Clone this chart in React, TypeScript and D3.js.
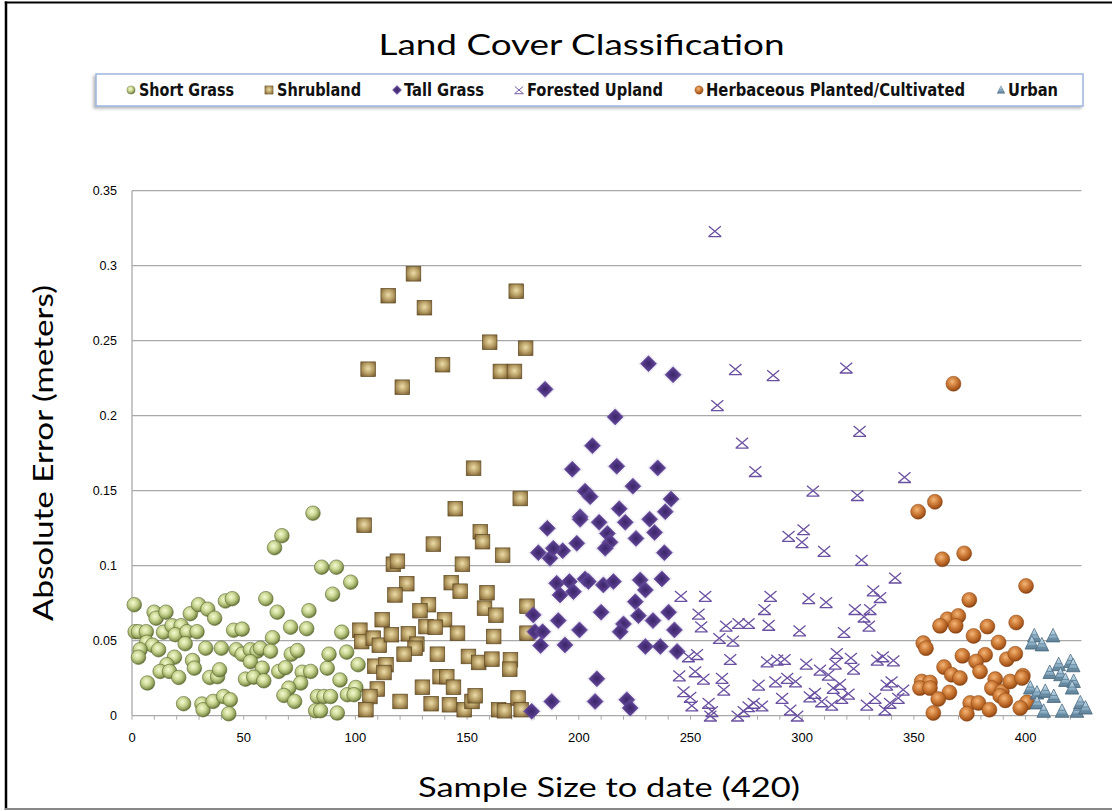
import React from 'react';
import * as d3 from 'd3';

type Pt = [number, number];

const shortGrass: Pt[] = [
  [81.0,0.135],[67.1,0.120],[63.8,0.112],[84.9,0.099],[91.5,0.099],[97.9,0.089],[89.8,0.081],[1.0,0.074],
  [9.9,0.069],[10.8,0.065],[15.2,0.069],[26.1,0.068],[29.8,0.074],[33.9,0.071],[37.0,0.065],[41.8,0.0765],
  [44.9,0.078],[59.9,0.078],[65.0,0.069],[79.2,0.070],[71.0,0.059],[78.2,0.058],[62.9,0.052],[93.9,0.0557],
  [1.4,0.056],[2.9,0.056],[6.4,0.056],[14.1,0.0557],[17.9,0.060],[22.0,0.060],[19.4,0.054],[24.6,0.056],
  [29.1,0.056],[23.8,0.048],[6.6,0.049],[9.2,0.047],[3.6,0.044],[2.9,0.039],[11.9,0.044],[19.0,0.039],
  [15.6,0.034],[12.6,0.0295],[16.8,0.0295],[20.9,0.0255],[6.9,0.0218],[27.1,0.0368],[27.9,0.0317],[33.0,0.045],
  [40.0,0.045],[34.8,0.0255],[38.3,0.026],[39.2,0.0306],[23.1,0.008],[31.3,0.0078],[31.8,0.004],[36.3,0.0095],
  [41.0,0.0128],[44.0,0.0106],[43.3,0.0013],[45.5,0.057],[49.3,0.0577],[46.7,0.044],[49.3,0.041],[53.0,0.044],
  [56.0,0.043],[57.5,0.045],[62.0,0.043],[53.0,0.036],[58.3,0.0317],[50.8,0.0244],[54.5,0.0257],[59.0,0.0233],
  [65.7,0.0295],[68.7,0.032],[71.3,0.041],[74.0,0.0434],[76.2,0.029],[80.0,0.0295],[75.5,0.0218],[70.2,0.0184],
  [68.0,0.0135],[72.8,0.0095],[87.4,0.0317],[88.2,0.041],[96.1,0.0424],[101.2,0.034],[93.1,0.0238],[83.0,0.0128],
  [85.9,0.0128],[88.9,0.0128],[96.4,0.014],[100.2,0.0188],[99.4,0.014],[82.2,0.0033],[84.4,0.0033],[91.9,0.0018],
];

const shrubland: Pt[] = [
  [126.0,0.2946],[114.7,0.280],[130.9,0.272],[172.0,0.283],[160.1,0.249],[176.2,0.245],[105.7,0.231],[139.0,0.234],
  [121.0,0.219],[164.9,0.2295],[171.2,0.2295],[152.9,0.165],[173.8,0.1448],[144.7,0.138],[103.9,0.127],[155.9,0.1226],
  [156.9,0.116],[134.9,0.1144],[165.9,0.107],[117.0,0.101],[118.8,0.103],[147.9,0.101],[123.0,0.088],[117.7,0.0805],
  [142.9,0.0887],[146.9,0.083],[158.9,0.082],[176.8,0.073],[132.7,0.074],[128.9,0.070],[157.8,0.0717],[162.9,0.067],
  [112.0,0.064],[139.9,0.064],[102.0,0.057],[102.8,0.0494],[108.0,0.0517],[110.7,0.047],[116.1,0.054],[123.7,0.0546],
  [131.6,0.0594],[135.7,0.059],[145.7,0.055],[161.9,0.0528],[176.8,0.055],[127.5,0.0477],[126.7,0.045],[121.8,0.041],
  [136.7,0.041],[150.6,0.0395],[155.2,0.0355],[161.1,0.0377],[169.4,0.0373],[169.1,0.031],[108.7,0.033],[113.7,0.034],
  [112.8,0.0288],[137.9,0.026],[140.9,0.026],[143.9,0.019],[109.8,0.0178],[106.5,0.0128],[104.7,0.004],[130.0,0.019],
  [120.0,0.0095],[133.9,0.008],[142.1,0.0073],[148.7,0.004],[152.2,0.0095],[153.6,0.0133],[164.1,0.004],[166.7,0.0033],
  [172.8,0.0118],[174.2,0.004],
];

const tallGrass: Pt[] = [
  [231.2,0.2347],[242.2,0.2273],[184.9,0.2176],[216.3,0.1992],[206.1,0.180],[197.1,0.1643],[217.0,0.1663],[235.3,0.1652],
  [224.2,0.153],[202.8,0.1497],[205.1,0.146],[241.3,0.1444],[238.7,0.136],[218.1,0.138],[200.6,0.1326],[185.9,0.1249],
  [200.6,0.1309],[209.1,0.1289],[220.8,0.1289],[231.7,0.131],[212.8,0.1215],[214.0,0.1156],[211.8,0.1116],[199.1,0.1149],
  [225.6,0.1182],[233.9,0.1222],[181.9,0.1087],[187.1,0.105],[192.8,0.110],[188.6,0.1116],[238.3,0.1087],[190.1,0.0883],
  [195.8,0.0894],[202.8,0.0912],[204.3,0.0894],[211.0,0.0872],[215.5,0.0894],[191.6,0.0805],[197.6,0.0827],[227.5,0.0905],
  [229.8,0.0838],[225.3,0.076],[237.2,0.0912],[179.6,0.0672],[180.4,0.056],[183.8,0.056],[190.8,0.0634],[200.3,0.0572],
  [210.0,0.069],[220.0,0.0612],[218.5,0.056],[226.7,0.0667],[233.2,0.0634],[240.2,0.069],[242.8,0.0572],[182.9,0.0468],
  [193.8,0.0472],[229.8,0.0461],[236.5,0.0461],[244.0,0.0428],[208.1,0.0246],[187.9,0.0095],[207.3,0.0095],[221.5,0.0106],
  [223.0,0.0051],[178.9,0.0029],
];

const forestedUpland: Pt[] = [
  [260.9,0.3229],[270.1,0.2309],[287.0,0.2269],[319.7,0.232],[262.0,0.2069],[325.7,0.1898],[273.1,0.1819],[279.0,0.163],
  [345.8,0.159],[304.8,0.1499],[324.7,0.147],[293.9,0.1198],[300.6,0.1242],[299.9,0.1156],[309.8,0.1098],[326.6,0.1038],
  [341.6,0.092],[245.7,0.0798],[256.6,0.0798],[285.8,0.0798],[302.9,0.0783],[310.7,0.0756],[331.8,0.0834],[334.9,0.079],
  [323.6,0.071],[330.4,0.071],[253.6,0.0679],[254.8,0.0594],[283.1,0.071],[285.0,0.0605],[327.7,0.066],[329.9,0.0599],
  [265.9,0.0599],[271.5,0.0617],[276.0,0.0617],[298.8,0.0568],[318.7,0.0557],[262.9,0.0517],[269.0,0.0499],[249.1,0.0395],
  [252.9,0.041],[267.8,0.0377],[284.3,0.0361],[288.8,0.0373],[292.1,0.0377],[301.8,0.0346],[308.0,0.0306],[311.7,0.0273],
  [315.5,0.0417],[314.8,0.0346],[321.8,0.0384],[323.0,0.0313],[333.6,0.0373],[336.1,0.0395],[340.8,0.0368],[245.0,0.0268],
  [252.1,0.0295],[255.8,0.0246],[264.1,0.0251],[264.9,0.0173],[280.5,0.0206],[288.0,0.0228],[293.3,0.0251],[297.0,0.0228],
  [246.9,0.0162],[249.9,0.0124],[250.6,0.0067],[258.1,0.0085],[259.6,0.0029],[258.9,0.0],[271.1,0.0],[273.8,0.0029],
  [276.0,0.0062],[278.3,0.0085],[282.0,0.0067],[291.0,0.0118],[294.7,0.004],[297.8,0.0],[303.4,0.0128],[305.7,0.0151],
  [308.7,0.0095],[313.2,0.0073],[313.9,0.0184],[316.9,0.0211],[317.7,0.0118],[320.7,0.0146],[328.9,0.0073],[332.6,0.0118],
  [337.0,0.004],[339.3,0.0085],[343.0,0.0118],[345.2,0.0173],[337.8,0.0206],[340.0,0.0228],
];

const herbaceous: Pt[] = [
  [367.7,0.2213],[359.4,0.1426],[351.9,0.136],[372.5,0.1082],[362.7,0.1043],[400.2,0.0865],[374.8,0.0772],[365.0,0.0643],
  [369.9,0.0665],[361.7,0.0599],[368.7,0.0599],[376.7,0.0532],[382.9,0.0594],[395.8,0.0621],[354.2,0.0484],[355.4,0.045],
  [387.9,0.0488],[371.7,0.0399],[381.9,0.0406],[377.8,0.0361],[379.6,0.0295],[391.6,0.0377],[395.4,0.0413],[363.5,0.0324],
  [366.9,0.0273],[370.6,0.0251],[353.5,0.0228],[357.2,0.0222],[352.7,0.0184],[357.2,0.0184],[365.9,0.0155],[360.9,0.0111],
  [386.4,0.0244],[384.9,0.0184],[389.4,0.0162],[393.1,0.0228],[398.8,0.0266],[398.4,0.0251],[388.6,0.0133],[390.9,0.0102],
  [375.2,0.0085],[378.9,0.0085],[383.8,0.004],[400.6,0.0089],[397.6,0.0051],[358.7,0.0018],[373.7,0.0013],
];

const urban: Pt[] = [
  [403.9,0.0532],[402.8,0.0484],[407.3,0.0472],[412.3,0.0532],[410.8,0.0288],[414.8,0.034],[420.1,0.0361],[421.3,0.0333],
  [415.6,0.0273],[417.8,0.0235],[421.5,0.0228],[420.8,0.0184],[402.1,0.0184],[405.1,0.0151],[408.8,0.0162],[412.6,0.0128],
  [405.1,0.0085],[408.1,0.0029],[416.3,0.0029],[423.0,0.0029],[424.5,0.0085],[426.8,0.0051],
];

const seriesNames = ['Short Grass', 'Shrubland', 'Tall Grass', 'Forested Upland', 'Herbaceous Planted/Cultivated', 'Urban'];
const xTicks = [0, 50, 100, 150, 200, 250, 300, 350, 400];
const xMinorTicks = d3.range(0, 421, 10);
const yTicks = [0, 0.05, 0.1, 0.15, 0.2, 0.25, 0.3, 0.35];
const titleText = 'Land Cover Classification';
const xTitle = 'Sample Size to date (420)';
const yTitle = 'Absolute Error (meters)';

type Kind = 'sg' | 'sh' | 'tg' | 'fu' | 'hb' | 'ur';

function Marker({ kind, cx, cy, s = 1 }: { kind: Kind; cx: number; cy: number; s?: number }) {
  const t = `translate(${cx},${cy}) scale(${s})`;
  switch (kind) {
    case 'sg':
      return <circle transform={t} r={7.3} fill="url(#gSG)" stroke="#5d6a32" strokeWidth={0.6} />;
    case 'sh':
      return <rect transform={t} x={-7.3} y={-7.3} width={14.6} height={14.6} fill="url(#gSH)" stroke="#5e4a22" strokeWidth={0.7} />;
    case 'tg':
      return (
        <g transform={t}>
          <path d="M0,-10.5 L10.5,0 L0,10.5 L-10.5,0 Z" fill="#8a78b8" opacity={0.13} />
          <path d="M0,-8 L8,0 L0,8 L-8,0 Z" fill="url(#gTG)" stroke="#5f4494" strokeWidth={0.6} />
        </g>
      );
    case 'fu':
      return (
        <path transform={t} d="M-6,-5 L6,5 M6,-5 L-6,5 M-6.5,5.3 L6.5,5.3" fill="none" stroke="#6a50a0" strokeWidth={1.3} />
      );
    case 'hb':
      return <circle transform={t} r={7.5} fill="url(#gHB)" stroke="#8a4514" strokeWidth={0.5} />;
    case 'ur':
      return (
        <g transform={t}>
          <path d="M0,-7.5 L6.8,6 L-6.8,6 Z" fill="url(#gUR)" stroke="#4a6a80" strokeWidth={0.8} />
          <path d="M-3.5,-1 L3.5,-1 M-5.2,3 L5.2,3" stroke="#5d7f96" strokeWidth={0.8} />
        </g>
      );
  }
}

export default function App() {
  const W = 1112;
  const H = 811;
  const x = d3.scaleLinear().domain([0, 425]).range([132, 132 + 425 * 2.234]);
  const y = d3.scaleLinear().domain([0, 0.35]).range([715.7, 190.7]);
  const [x0, x1] = x.range();

  const series: { kind: Kind; data: Pt[] }[] = [
    { kind: 'sg', data: shortGrass },
    { kind: 'sh', data: shrubland },
    { kind: 'tg', data: tallGrass },
    { kind: 'fu', data: forestedUpland },
    { kind: 'hb', data: herbaceous },
    { kind: 'ur', data: urban },
  ];

  const legendItems: { kind: Kind; mx: number; tx: number; tw: number }[] = [
    { kind: 'sg', mx: 131, tx: 139, tw: 95 },
    { kind: 'sh', mx: 269, tx: 277, tw: 84 },
    { kind: 'tg', mx: 397, tx: 404, tw: 80 },
    { kind: 'fu', mx: 519, tx: 527, tw: 136 },
    { kind: 'hb', mx: 699, tx: 706, tw: 259 },
    { kind: 'ur', mx: 1001, tx: 1008, tw: 50 },
  ];

  const fmtY = (v: number) => (v === 0 ? '0' : String(+v.toFixed(2)));

  return (
    <svg width={W} height={H} viewBox={`0 0 ${W} ${H}`} style={{ position: 'absolute', left: 0, top: 0, background: '#fff' }}>
      <defs>
        <radialGradient id="gSG" cx="0.42" cy="0.38" r="0.62">
          <stop offset="0" stopColor="#f6f9d2" />
          <stop offset="0.45" stopColor="#cbd895" />
          <stop offset="0.8" stopColor="#93a25c" />
          <stop offset="1" stopColor="#5f6c33" />
        </radialGradient>
        <radialGradient id="gSH" cx="0.5" cy="0.45" r="0.72">
          <stop offset="0" stopColor="#ecdcaa" />
          <stop offset="0.45" stopColor="#bca46a" />
          <stop offset="0.85" stopColor="#86693a" />
          <stop offset="1" stopColor="#6a5127" />
        </radialGradient>
        <radialGradient id="gTG" cx="0.5" cy="0.5" r="0.6">
          <stop offset="0" stopColor="#3b2568" />
          <stop offset="0.55" stopColor="#563b8b" />
          <stop offset="1" stopColor="#735aa6" />
        </radialGradient>
        <radialGradient id="gHB" cx="0.42" cy="0.36" r="0.64">
          <stop offset="0" stopColor="#f3b679" />
          <stop offset="0.45" stopColor="#d1803c" />
          <stop offset="0.85" stopColor="#a8571c" />
          <stop offset="1" stopColor="#7e3f12" />
        </radialGradient>
        <linearGradient id="gUR" x1="0" y1="0" x2="0" y2="1">
          <stop offset="0" stopColor="#cfe4f0" />
          <stop offset="0.55" stopColor="#93b6cc" />
          <stop offset="1" stopColor="#587a90" />
        </linearGradient>
        <filter id="legShadow" x="-5%" y="-30%" width="110%" height="170%">
          <feDropShadow dx="-2" dy="2" stdDeviation="1.5" floodColor="#888" floodOpacity="0.6" />
        </filter>
      </defs>

      {/* frame */}
      <line x1={6} y1={1.5} x2={6} y2={810} stroke="#000" strokeWidth={2.5} />
      <line x1={4.8} y1={2.5} x2={W} y2={2.5} stroke="#000" strokeWidth={2} />
      <line x1={4.8} y1={809} x2={W} y2={809} stroke="#888" strokeWidth={2} />

      {/* title */}
      <text x={581.5} y={55} textAnchor="middle" fontFamily="Lato, 'Open Sans', sans-serif" fontSize={29} fill="#000"
        textLength={406} lengthAdjust="spacingAndGlyphs">{titleText}</text>

      {/* legend */}
      <rect x={96} y={74} width={987} height={32} fill="#fff" stroke="#9db7de" strokeWidth={1.5} filter="url(#legShadow)" />
      {legendItems.map((it, i) => (
        <g key={i}>
          <Marker kind={it.kind} cx={it.mx} cy={90} s={it.kind === 'fu' ? 0.7 : 0.56} />
          <text x={it.tx} y={96} fontFamily="'Liberation Sans Narrow', 'DejaVu Sans Condensed', 'Liberation Sans', sans-serif"
            fontWeight="bold" fontSize={17} fill="#111" textLength={it.tw} lengthAdjust="spacingAndGlyphs">{seriesNames[i]}</text>
        </g>
      ))}

      {/* gridlines */}
      {yTicks.filter((v) => v > 0).map((v) => (
        <line key={v} x1={x0} x2={x1} y1={y(v)} y2={y(v)} stroke="#a9a9a9" strokeWidth={1.3} />
      ))}
      {/* axes */}
      <line x1={x0} x2={x0} y1={y(0.35)} y2={y(0)} stroke="#a9a9a9" strokeWidth={1.3} />
      <line x1={x0} x2={x1} y1={y(0)} y2={y(0)} stroke="#a9a9a9" strokeWidth={1.3} />
      {xMinorTicks.map((v) => (
        <line key={v} x1={x(v)} x2={x(v)} y1={y(0)} y2={y(0) + 4} stroke="#a9a9a9" strokeWidth={1} />
      ))}
      {yTicks.map((v) => (
        <text key={v} x={117} y={y(v) + 4.5} textAnchor="end" fontFamily="'Liberation Sans', Arial, sans-serif" fontSize={12.5} fill="#000">
          {fmtY(v)}
        </text>
      ))}
      {xTicks.map((v) => (
        <text key={v} x={x(v)} y={742} textAnchor="middle" fontFamily="'Liberation Sans', Arial, sans-serif" fontSize={13} fill="#000">
          {v}
        </text>
      ))}

      {/* axis titles */}
      <text x={609} y={797} textAnchor="middle" fontFamily="Lato, 'Open Sans', sans-serif" fontSize={27} fill="#000"
        textLength={382} lengthAdjust="spacingAndGlyphs">{xTitle}</text>
      <text transform="translate(53,453) rotate(-90)" textAnchor="middle" fontFamily="Lato, 'Open Sans', sans-serif" fontSize={27}
        fill="#000" textLength={336} lengthAdjust="spacingAndGlyphs">{yTitle}</text>

      {/* series */}
      {series.map((s) => (
        <g key={s.kind}>
          {s.data.map((d, i) => (
            <Marker key={i} kind={s.kind} cx={x(d[0])} cy={y(d[1])} />
          ))}
        </g>
      ))}
    </svg>
  );
}
